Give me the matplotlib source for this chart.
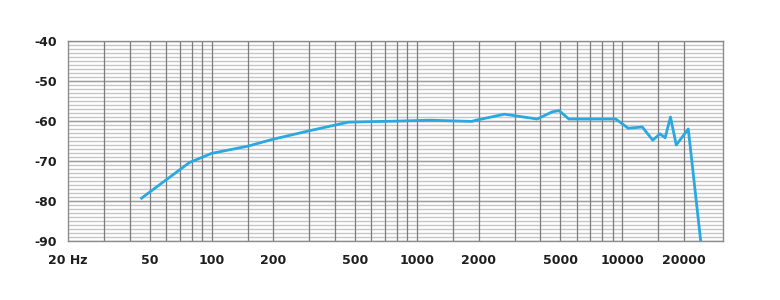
import matplotlib
matplotlib.use("Agg")
import matplotlib.pyplot as plt
from matplotlib.ticker import FixedLocator, NullFormatter

# frequency response (Hz, dB)
freq = [45.6, 78, 100, 150, 198, 296, 463, 828, 1155, 1850, 1946, 2670, 3860,
        4570, 4930, 5500, 9310, 10700, 12540, 14100, 15300, 16200, 17200, 18350,
        21000, 24200]
level = [-79.3, -70.4, -68.1, -66.3, -64.6, -62.5, -60.3, -60.0, -59.8, -60.1,
         -59.8, -58.3, -59.5, -57.7, -57.4, -59.5, -59.5, -61.8, -61.5, -64.8,
         -63.2, -64.2, -59.0, -66.0, -62.0, -90.5]

x_ticks = [20, 50, 100, 200, 500, 1000, 2000, 5000, 10000, 20000]
x_labels = ['20 Hz', '50', '100', '200', '500', '1000', '2000', '5000', '10000', '20000']
y_ticks = [-90, -80, -70, -60, -50, -40]

x_grid = [30, 40, 50, 60, 70, 80, 90, 100, 150, 200, 300, 400, 500, 600, 700, 800,
          900, 1000, 1500, 2000, 3000, 4000, 5000, 6000, 7000, 8000, 9000, 10000,
          15000, 20000]

fig = plt.figure(figsize=(7.8, 3.0), dpi=100)
ax = fig.add_axes([68/780, 1 - 241/300, (723 - 68)/780, 200/300])

ax.set_xscale('log')
ax.set_xlim(20, 31000)
ax.set_ylim(-90, -40)

# grid: light horizontal lines every 1 dB, a bit darker every 10 dB, dark verticals
for v in range(-89, -40):
    ax.axhline(v, color='#c6c6c6', lw=1.0, zorder=1)
for v in y_ticks:
    ax.axhline(v, color='#a0a0a0', lw=1.0, zorder=1)
for f in x_grid:
    ax.axvline(f, color='#7c7c7c', lw=0.9, zorder=2)

ax.plot(freq, level, color='#29a9e1', lw=2.0, zorder=3, clip_on=True)

ax.xaxis.set_major_locator(FixedLocator(x_ticks))
ax.xaxis.set_minor_locator(FixedLocator([]))
ax.xaxis.set_minor_formatter(NullFormatter())
ax.set_xticklabels(x_labels)
ax.set_yticks(y_ticks)
ax.set_yticklabels([str(v) for v in y_ticks])
ax.tick_params(axis='both', length=0, labelsize=9, colors='#1e1e1e')
ax.tick_params(axis='x', pad=9)
ax.tick_params(axis='y', pad=8)
for lbl in ax.get_xticklabels() + ax.get_yticklabels():
    lbl.set_fontweight('bold')

for s in ax.spines.values():
    s.set_color('#8c8c8c')
    s.set_linewidth(1.0)

fig.savefig('out.png', dpi=100)
